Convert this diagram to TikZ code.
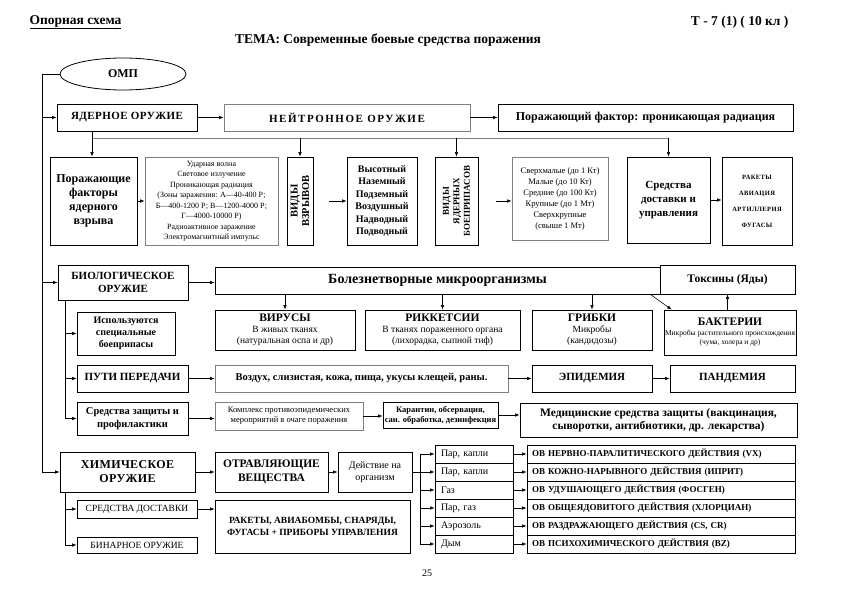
\documentclass[tikz,border=0pt]{standalone}
\usepackage{fontspec}
\setmainfont{Liberation Serif}
\usetikzlibrary{arrows.meta,shapes.geometric,shadows}

\begin{document}
\begin{tikzpicture}
    [x=1pt, y=-1pt,
    >={Latex[length=4.5pt,width=3.5pt]},
    line width=0.6pt,
    box/.style={draw, line width=0.8pt, fill=white, align=center, inner sep=1pt,
        drop shadow={shadow xshift=1.1pt, shadow yshift=-1.1pt, fill=black!80, opacity=1}},
    palebox/.style={draw=black!50, line width=0.8pt, fill=white, align=center, inner sep=1pt},
    cell/.style={draw, line width=0.8pt, minimum height=18pt, align=left},
    wh/.style 2 args={minimum width=#1pt, minimum height=#2pt},
    big/.style={font=\bfseries\fontsize{11}{13}\selectfont}]
    \useasboundingbox (0,0) rectangle (841,595);

        %% Header
        \node[font=\bfseries\fontsize{13.5}{16}\selectfont, anchor=west] (hd) at (26,22) {\underline{Опорная схема}};
        \node[font=\bfseries\fontsize{13.5}{16}\selectfont, anchor=east] (cls) at (792,22) {Т - 7 (1) ( 10 кл )};
        \node[font=\bfseries\fontsize{13.5}{16}\selectfont] (tema) at (388,40) {ТЕМА: Современные боевые средства поражения};
        \node[ellipse, draw, line width=0.8pt, minimum width=126pt, minimum height=32pt,
            font=\bfseries\fontsize{12}{14}\selectfont] (omp) at (123,74) {ОМП};
        \coordinate (tr) at (42,74);

        %% Nuclear
        \node[box, wh={140}{27}, font=\bfseries\fontsize{11}{13}\selectfont\addfontfeatures{LetterSpace=4}] (yad) at (127,117.5) {ЯДЕРНОЕ ОРУЖИЕ};
        \node[palebox, wh={246}{27}, font=\bfseries\fontsize{11}{13}\selectfont\addfontfeatures{LetterSpace=14}] (neu) at (347,117.5) {НЕЙТРОННОЕ ОРУЖИЕ};
        \node[box, wh={295}{27}, font=\bfseries\fontsize{12}{14}\selectfont] (pf) at (645.5,117.5) {Поражающий фактор: проникающая радиация};

        \node[box, wh={87}{88}, font=\bfseries\fontsize{12}{14}\selectfont] (pfy) at (93.5,201) {Поражающие\\факторы\\ядерного\\взрыва};
        \node[palebox, wh={133}{88}, font=\fontsize{8}{10.5}\selectfont] (det) at (211.5,201)
            {Ударная волна\\Световое излучение\\Проникающая радиация\\(Зоны заражения: А—40-400 Р;\\Б—400-1200 Р; В—1200-4000 Р;\\Г—4000-10000 Р)\\Радиоактивное заражение\\Электромагнитный импульс};
        \node[box, wh={26}{88}] (vv) at (300,201) {};
        \node[rotate=90, align=center, font=\bfseries\fontsize{10.5}{11.5}\selectfont] at (vv) {ВИДЫ\\ВЗРЫВОВ};
        \node[box, wh={70}{88}, font=\bfseries\fontsize{10}{12.5}\selectfont] (vvl) at (382,201) {Высотный\\Наземный\\Подземный\\Воздушный\\Надводный\\Подводный};
        \node[box, wh={43}{88}] (vb) at (456.5,201) {};
        \node[rotate=90, align=center, font=\bfseries\fontsize{9}{10.5}\selectfont] at (vb) {ВИДЫ\\ЯДЕРНЫХ\\БОЕПРИПАСОВ};
        \node[palebox, wh={96}{83}, font=\fontsize{8.5}{11}\selectfont] (vbl) at (560,198.5)
            {Сверхмалые (до 1 Кт)\\Малые (до 10 Кт)\\Средние (до 100 Кт)\\Крупные (до 1 Мт)\\Сверхкрупные\\(свыше 1 Мт)};
        \node[box, wh={83}{86}, font=\bfseries\fontsize{11}{14}\selectfont] (sdu) at (668.5,200) {Средства\\доставки и\\управления};
        \node[box, wh={70}{88}, font=\bfseries\fontsize{6.5}{16}\selectfont\addfontfeatures{LetterSpace=6}] (rak) at (757,201) {РАКЕТЫ\\АВИАЦИЯ\\АРТИЛЛЕРИЯ\\ФУГАСЫ};

        \draw (omp.west) -- (tr) -- (tr |- 0,472);
        \draw[->] (tr |- yad.west) -- (yad.west);
        \draw[->] (yad.east) -- (neu.west);
        \draw[->] (neu.east) -- (pf.west);
        \coordinate (nb) at (92,138);
        \draw[black!50] (nb) -- (sdu.north |- nb);
        \draw[->] (yad.south -| nb) -- (pfy.north -| nb);
        \draw[->] (vv.north |- nb) -- (vv.north);
        \draw[->] (vb.north |- nb) -- (vb.north);
        \draw[->] (sdu.north |- nb) -- (sdu.north);
        \draw[->] (pfy.east) -- (det.west);
        \draw[->, shorten <=16pt] (vv.east) -- (vvl.west);
        \draw[->, shorten <=18pt] (vb.east) -- (vb.east -| vbl.west);
        \draw[->] (sdu.east) -- (sdu.east -| rak.west);

        %% Biological
        \node[box, wh={130}{35}, big] (bio) at (123,282.5) {БИОЛОГИЧЕСКОЕ\\ОРУЖИЕ};
        \node[box, wh={445}{27}, font=\bfseries\fontsize{14}{16}\selectfont] (bol) at (437.5,280.5) {Болезнетворные микроорганизмы};
        \node[box, wh={135}{29}, font=\bfseries\fontsize{11.5}{13}\selectfont] (tox) at (727.5,279.5) {Токсины (Яды)};
        \node[box, wh={98}{43}, font=\bfseries\fontsize{10}{12}\selectfont] (isp) at (126,333.5) {Используются\\специальные\\боеприпасы};
        \node[box, wh={140}{40}, font=\fontsize{9.5}{11}\selectfont] (vir) at (285,330)
            {{\bfseries\fontsize{11.5}{13}\selectfont ВИРУСЫ}\\В живых тканях\\(натуральная оспа и др)};
        \node[box, wh={155}{40}, font=\fontsize{9.5}{11}\selectfont] (rik) at (442.5,330)
            {{\bfseries\fontsize{11.5}{13}\selectfont РИККЕТСИИ}\\В тканях пораженного органа\\(лихорадка, сыпной тиф)};
        \node[box, wh={120}{40}, font=\fontsize{9.5}{11}\selectfont] (gri) at (592,330)
            {{\bfseries\fontsize{11.5}{13}\selectfont ГРИБКИ}\\Микробы\\(кандидозы)};
        \node[box, wh={130}{45}, font=\fontsize{7.5}{9.5}\selectfont] (bak) at (730,332.5)
            {{\bfseries\fontsize{11.5}{13}\selectfont БАКТЕРИИ}\\Микробы растительного происхождения\\(чума, холера и др)};

        \node[box, wh={111}{27}, big] (put) at (132.5,378.5) {ПУТИ ПЕРЕДАЧИ};
        \node[palebox, wh={293}{27}, font=\bfseries\fontsize{10.5}{12}\selectfont] (voz) at (361.5,378.5) {Воздух, слизистая, кожа, пища, укусы клещей, раны.};
        \node[box, wh={120}{27}, big] (epi) at (592,378.5) {ЭПИДЕМИЯ};
        \node[box, wh={125}{27}, big] (pan) at (732.5,378.5) {ПАНДЕМИЯ};

        \node[box, wh={111}{33}, font=\bfseries\fontsize{10.5}{12.5}\selectfont] (szp) at (132.5,418.5) {Средства защиты и\\профилактики};
        \node[palebox, wh={148}{28}, font=\fontsize{8.5}{10}\selectfont] (kom) at (289,416) {Комплекс противоэпидемических\\мероприятий в очаге поражения};
        \node[box, wh={115}{26}, font=\bfseries\fontsize{8.5}{10}\selectfont] (kar) at (440.5,415) {Карантин, обсервация,\\сан. обработка, дезинфекция};
        \node[box, wh={277}{34}, font=\bfseries\fontsize{11.5}{13.5}\selectfont] (med) at (658.5,420) {Медицинские средства защиты (вакцинация,\\сыворотки, антибиотики, др. лекарства)};

        \draw[->] (tr |- bio.west) -- (bio.west);
        \draw[->] (bio.east) -- (bio.east -| bol.west);
        \draw[->] (bol.south -| vir.north) -- (vir.north);
        \draw[->] (bol.south -| rik.north) -- (rik.north);
        \draw[->] (bol.south -| gri.north) -- (gri.north);
        \draw[->] ([xshift=-10pt]bol.south east) -- ([xshift=8pt]bak.north west);
        \draw[->] (tox.south |- bak.north) -- (tox.south);
        \coordinate (bb) at (65,0);
        \draw (bio.south -| bb) -- (bb |- szp.west);
        \draw[->] (bb |- isp.west) -- (isp.west);
        \draw[->] (bb |- put.west) -- (put.west);
        \draw[->] (bb |- szp.west) -- (szp.west);
        \draw[->] (put.east) -- (voz.west);
        \draw[->] (voz.east) -- (epi.west);
        \draw[->] (epi.east) -- (pan.west);
        \draw[->] (szp.east) -- (szp.east -| kom.west);
        \draw[->] (kom.east) -- (kom.east -| kar.west);
        \draw[->] (kar.east) -- (kar.east -| med.west);

        %% Chemical
        \node[box, wh={135}{40}, font=\bfseries\fontsize{12}{14}\selectfont\addfontfeatures{LetterSpace=3}] (him) at (127.5,472) {ХИМИЧЕСКОЕ\\ОРУЖИЕ};
        \node[box, wh={113}{40}, font=\bfseries\fontsize{11.5}{13.5}\selectfont] (otr) at (271.5,472) {ОТРАВЛЯЮЩИЕ\\ВЕЩЕСТВА};
        \node[box, wh={74}{40}, font=\fontsize{10}{12}\selectfont] (dej) at (375,472) {Действие на\\организм};
        \coordinate (bus) at (420,472);

        \foreach \st/\ov [count=\i from 0] in
            {{Пар, капли}/{ОВ НЕРВНО-ПАРАЛИТИЧЕСКОГО ДЕЙСТВИЯ (VX)},
             {Пар, капли}/{ОВ КОЖНО-НАРЫВНОГО ДЕЙСТВИЯ (ИПРИТ)},
             {Газ}/{ОВ УДУШАЮЩЕГО ДЕЙСТВИЯ (ФОСГЕН)},
             {Пар, газ}/{ОВ ОБЩЕЯДОВИТОГО ДЕЙСТВИЯ (ХЛОРЦИАН)},
             {Аэрозоль}/{ОВ РАЗДРАЖАЮЩЕГО ДЕЙСТВИЯ (CS, CR)},
             {Дым}/{ОВ ПСИХОХИМИЧЕСКОГО ДЕЙСТВИЯ (BZ)}}
        {
            \node[cell, inner xsep=6pt, text width=66pt, font=\fontsize{10}{12}\selectfont] (st\i) at (474,{454+18*\i}) {\st};
            \node[cell, inner xsep=5pt, text width=258pt, font=\bfseries\fontsize{9}{11}\selectfont] (ov\i) at (661,{454+18*\i}) {\ov};
            \draw[->] (bus |- st\i.west) -- (st\i.west);
            \draw[->] (st\i.east) -- (ov\i.west);
        }

        \node[box, wh={120}{18}, font=\fontsize{9.5}{11}\selectfont] (sdo) at (137,509) {СРЕДСТВА ДОСТАВКИ};
        \node[box, wh={195}{53}, font=\bfseries\fontsize{9.5}{12}\selectfont] (rkt) at (312.5,526.5) {РАКЕТЫ, АВИАБОМБЫ, СНАРЯДЫ,\\ФУГАСЫ + ПРИБОРЫ УПРАВЛЕНИЯ};
        \node[box, wh={120}{16}, font=\fontsize{9.5}{11}\selectfont] (bin) at (137,545) {БИНАРНОЕ ОРУЖИЕ};
        \node[font=\fontsize{10}{12}\selectfont] (pg) at (427,573) {25};

        \draw[->] (tr |- him.west) -- (him.west);
        \draw[->] (him.east) -- (otr.west);
        \draw[->] (otr.east) -- (dej.west);
        \draw (dej.east) -- (bus);
        \draw (bus |- st0.west) -- (bus |- st5.west);
        \draw (him.south -| bb) -- (bb |- bin.west);
        \draw[->] (bb |- sdo.west) -- (sdo.west);
        \draw[->] (bb |- bin.west) -- (bin.west);
        \draw[->] (sdo.east) -- (sdo.east -| rkt.west);
\end{tikzpicture}
\end{document}
